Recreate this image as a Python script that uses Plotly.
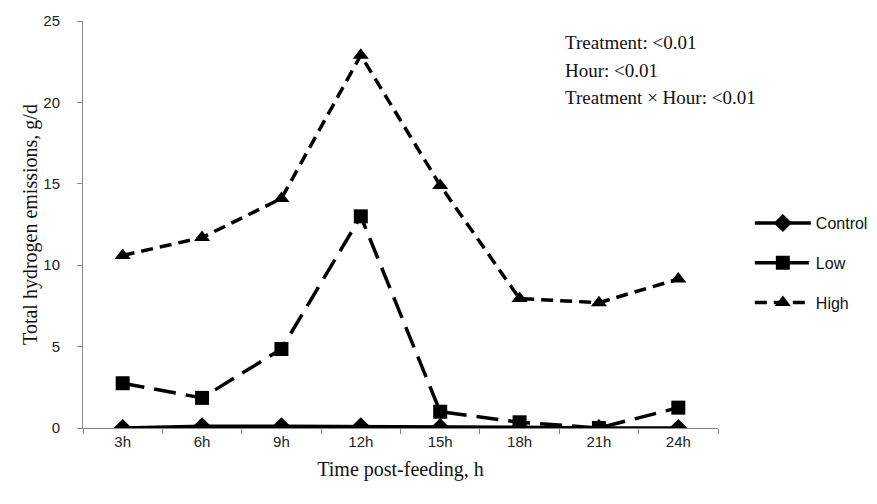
import plotly.graph_objects as go

hours = ["3h", "6h", "9h", "12h", "15h", "18h", "21h", "24h"]
control = [0.0, 0.1, 0.1, 0.1, 0.05, 0.05, 0.0, 0.0]
low = [2.75, 1.85, 4.85, 13.0, 1.0, 0.35, 0.0, 1.25]
high = [10.6, 11.7, 14.1, 22.9, 14.9, 7.95, 7.7, 9.15]
y_ticks = [0, 5, 10, 15, 20, 25]
stats_lines = ["Treatment: &lt;0.01", "Hour: &lt;0.01", "Treatment × Hour: &lt;0.01"]

fig = go.Figure()
fig.add_trace(go.Scatter(x=hours, y=control, name="Control", mode="lines+markers", legendgroup="c",
                         line=dict(color="black", width=3.5, dash="solid"),
                         marker=dict(symbol="diamond", size=14, color="black")))
fig.add_trace(go.Scatter(x=hours, y=low, name="Low", mode="lines+markers", legendgroup="l",
                         line=dict(color="black", width=3.5, dash="22px,10px"),
                         marker=dict(symbol="square", size=14, color="black")))
fig.add_trace(go.Scatter(x=hours, y=high, name="High", mode="lines+markers", legendgroup="h",
                         line=dict(color="black", width=3.5, dash="12px,7px"),
                         marker=dict(symbol="triangle-up", size=14, color="black")))

for i, line in enumerate(stats_lines):
    fig.add_annotation(xref="paper", yref="paper", x=0.756, y=0.946 - i * 0.0665,
                       xanchor="left", yanchor="middle",
                       text=line, showarrow=False, align="left",
                       font=dict(family="Liberation Serif", size=19, color="#111"))

fig.update_layout(
    width=877, height=504,
    margin=dict(l=83, r=159, t=18, b=76),
    plot_bgcolor="white", paper_bgcolor="white",
    font=dict(family="Liberation Sans", size=15, color="#222"),
    legend=dict(xref="container", yref="container", x=0.855, y=0.478,
                xanchor="left", yanchor="middle",
                font=dict(family="Liberation Sans", size=16, color="#111"),
                tracegroupgap=16, itemwidth=56),
    xaxis=dict(type="category", tickson="boundaries", ticks="outside", ticklen=5,
               tickcolor="#888", showline=True, linecolor="#888", linewidth=1,
               showgrid=False, range=[-0.5, 7.5],
               title=dict(text="Time post-feeding, h", standoff=12,
                          font=dict(family="Liberation Serif", size=20, color="#111"))),
    yaxis=dict(range=[0, 25], tickvals=y_ticks, ticks="outside", ticklen=5, tickcolor="#888",
               ticklabelstandoff=14,
               showline=True, linecolor="#888", linewidth=1, showgrid=False, zeroline=False,
               title=dict(text="Total hydrogen emissions, g/d", standoff=0,
                          font=dict(family="Liberation Serif", size=20, color="#111"))),
)

fig.write_html("out.html")
